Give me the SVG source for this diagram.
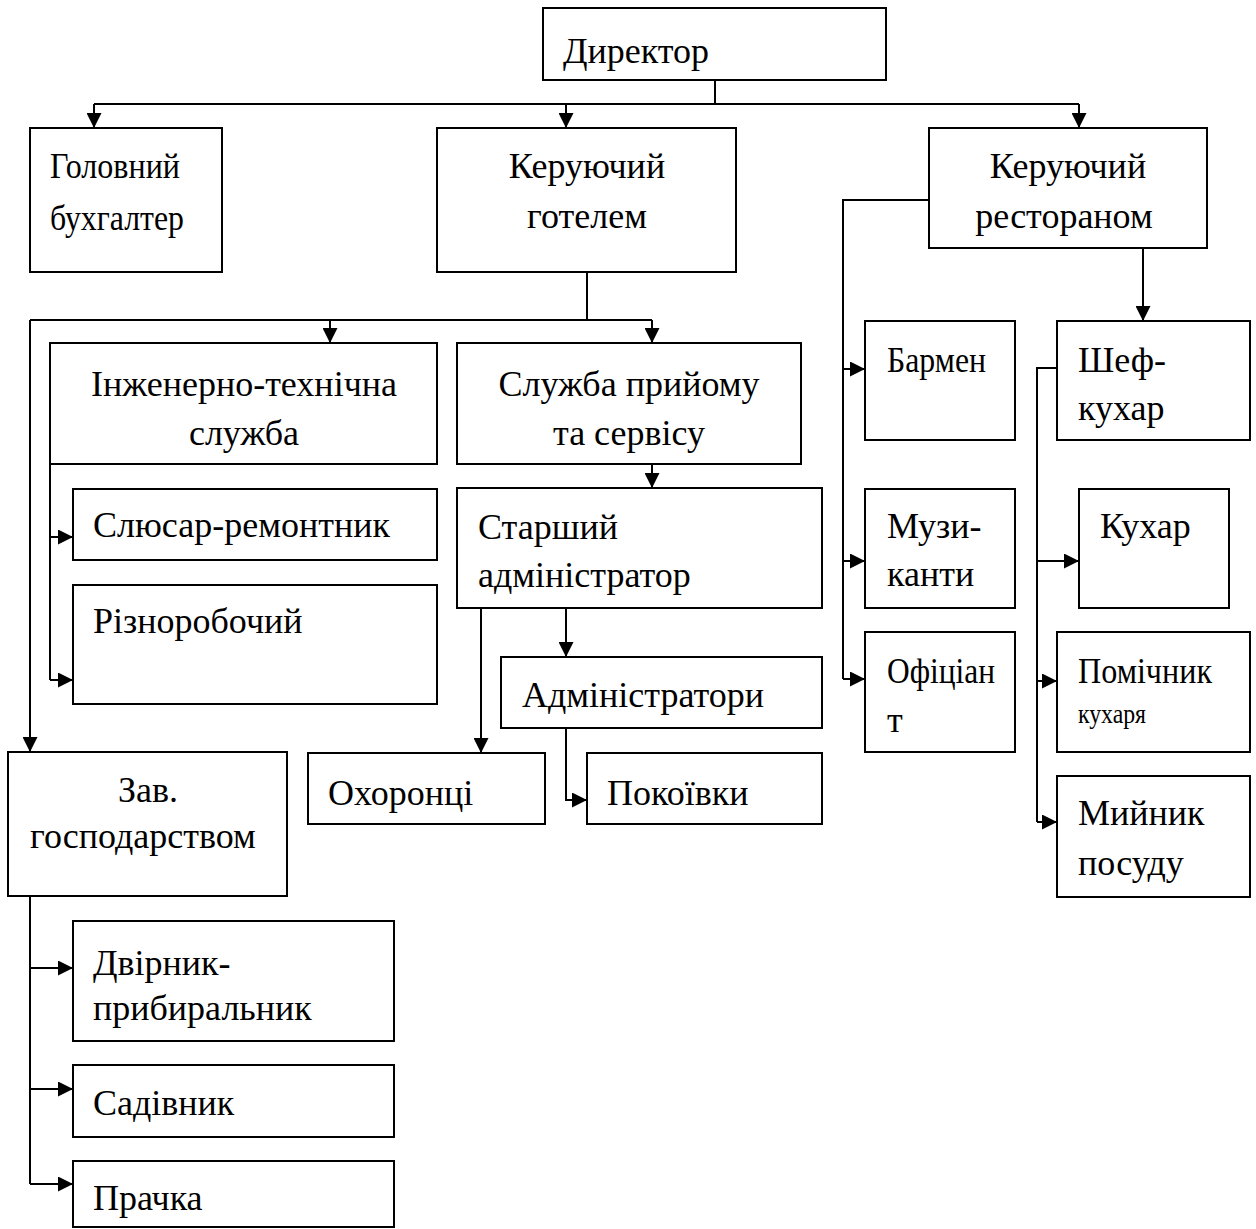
<svg xmlns="http://www.w3.org/2000/svg" width="1256" height="1229" viewBox="0 0 1256 1229">
<style>
.box{fill:#fff;stroke:#000;stroke-width:2}
.t{font-family:"Liberation Serif","Times New Roman",serif;font-size:36px;fill:#000}
.s{font-family:"Liberation Serif","Times New Roman",serif;font-size:27px;fill:#000}
.c{text-anchor:middle}
.ln{fill:none;stroke:#000;stroke-width:2}
</style>
<defs>
<marker id="ar" markerUnits="userSpaceOnUse" markerWidth="15" markerHeight="15" refX="15" refY="7.5" orient="auto">
<path d="M0,0 L15,7.5 L0,15 z" fill="#000"/>
</marker>
</defs>
<rect width="1256" height="1229" fill="#fff"/>
<g id="connectors">
<path class="ln" d="M715,80 V104 M94,104 H1079"/>
<path class="ln" d="M94,104 V128" marker-end="url(#ar)"/>
<path class="ln" d="M566,104 V128" marker-end="url(#ar)"/>
<path class="ln" d="M1079,104 V128" marker-end="url(#ar)"/>
<path class="ln" d="M587,272 V320 M30,320 H652"/>
<path class="ln" d="M330,320 V343" marker-end="url(#ar)"/>
<path class="ln" d="M652,320 V343" marker-end="url(#ar)"/>
<path class="ln" d="M30,320 V752" marker-end="url(#ar)"/>
<path class="ln" d="M50,464 V680"/>
<path class="ln" d="M50,537 H73" marker-end="url(#ar)"/>
<path class="ln" d="M50,680 H73" marker-end="url(#ar)"/>
<path class="ln" d="M652,464 V488" marker-end="url(#ar)"/>
<path class="ln" d="M481,608 V753" marker-end="url(#ar)"/>
<path class="ln" d="M566,608 V657" marker-end="url(#ar)"/>
<path class="ln" d="M566,728 V800 H587" marker-end="url(#ar)"/>
<path class="ln" d="M929,200 H843 V679"/>
<path class="ln" d="M843,369 H865" marker-end="url(#ar)"/>
<path class="ln" d="M843,561 H865" marker-end="url(#ar)"/>
<path class="ln" d="M843,679 H865" marker-end="url(#ar)"/>
<path class="ln" d="M1143,248 V321" marker-end="url(#ar)"/>
<path class="ln" d="M1057,368 H1037 V822"/>
<path class="ln" d="M1037,561 H1079" marker-end="url(#ar)"/>
<path class="ln" d="M1037,681 H1057" marker-end="url(#ar)"/>
<path class="ln" d="M1037,822 H1057" marker-end="url(#ar)"/>
<path class="ln" d="M30,896 V1184"/>
<path class="ln" d="M30,968 H73" marker-end="url(#ar)"/>
<path class="ln" d="M30,1089 H73" marker-end="url(#ar)"/>
<path class="ln" d="M30,1184 H73" marker-end="url(#ar)"/>
</g>
<g id="director"><rect class="box" x="543" y="8" width="343" height="72"/><text class="t" x="563" y="63">Директор</text></g>
<g id="accountant"><rect class="box" x="30" y="128" width="192" height="144"/><text class="t" x="50" y="178" textLength="130" lengthAdjust="spacingAndGlyphs">Головний</text><text class="t" x="50" y="230" textLength="134" lengthAdjust="spacingAndGlyphs">бухгалтер</text></g>
<g id="hotel-manager"><rect class="box" x="437" y="128" width="299" height="144"/><text class="t c" x="587" y="178">Керуючий</text><text class="t c" x="587" y="228">готелем</text></g>
<g id="restaurant-manager"><rect class="box" x="929" y="128" width="278" height="120"/><text class="t c" x="1068" y="178">Керуючий</text><text class="t c" x="1064" y="228">рестораном</text></g>
<g id="engineering"><rect class="box" x="50" y="343" width="387" height="121"/><text class="t c" x="244" y="396">Інженерно-технічна</text><text class="t c" x="244" y="445">служба</text></g>
<g id="locksmith"><rect class="box" x="73" y="489" width="364" height="71"/><text class="t" x="93" y="537">Слюсар-ремонтник</text></g>
<g id="handyman"><rect class="box" x="73" y="585" width="364" height="119"/><text class="t" x="93" y="633">Різноробочий</text></g>
<g id="reception"><rect class="box" x="457" y="343" width="344" height="121"/><text class="t c" x="629" y="396">Служба прийому</text><text class="t c" x="629" y="445">та сервісу</text></g>
<g id="senior-admin"><rect class="box" x="457" y="488" width="365" height="120"/><text class="t" x="478" y="539">Старший</text><text class="t" x="478" y="587">адміністратор</text></g>
<g id="admins"><rect class="box" x="501" y="657" width="321" height="71"/><text class="t" x="522" y="707">Адміністратори</text></g>
<g id="guards"><rect class="box" x="308" y="753" width="237" height="71"/><text class="t" x="328" y="805">Охоронці</text></g>
<g id="maids"><rect class="box" x="587" y="753" width="235" height="71"/><text class="t" x="607" y="805">Покоївки</text></g>
<g id="housekeeper"><rect class="box" x="8" y="752" width="279" height="144"/><text class="t" x="118" y="802">Зав.</text><text class="t c" x="143" y="848">господарством</text></g>
<g id="janitor"><rect class="box" x="73" y="921" width="321" height="120"/><text class="t" x="93" y="975">Двірник-</text><text class="t" x="93" y="1020">прибиральник</text></g>
<g id="gardener"><rect class="box" x="73" y="1065" width="321" height="72"/><text class="t" x="93" y="1115">Садівник</text></g>
<g id="laundress"><rect class="box" x="73" y="1161" width="321" height="66"/><text class="t" x="93" y="1210">Прачка</text></g>
<g id="barman"><rect class="box" x="865" y="321" width="150" height="119"/><text class="t" x="887" y="372" textLength="99" lengthAdjust="spacingAndGlyphs">Бармен</text></g>
<g id="musicians"><rect class="box" x="865" y="489" width="150" height="119"/><text class="t" x="887" y="538">Музи-</text><text class="t" x="887" y="586">канти</text></g>
<g id="waiter"><rect class="box" x="865" y="632" width="150" height="120"/><text class="t" x="887" y="683" textLength="108" lengthAdjust="spacingAndGlyphs">Офіціан</text><text class="t" x="887" y="732">т</text></g>
<g id="chef"><rect class="box" x="1057" y="321" width="193" height="119"/><text class="t" x="1078" y="372">Шеф-</text><text class="t" x="1078" y="420">кухар</text></g>
<g id="cook"><rect class="box" x="1079" y="489" width="150" height="119"/><text class="t" x="1100" y="538">Кухар</text></g>
<g id="cook-assistant"><rect class="box" x="1057" y="632" width="193" height="120"/><text class="t" x="1078" y="683" textLength="134" lengthAdjust="spacingAndGlyphs">Помічник</text><text class="s" x="1078" y="723" textLength="68" lengthAdjust="spacingAndGlyphs">кухаря</text></g>
<g id="dishwasher"><rect class="box" x="1057" y="776" width="193" height="121"/><text class="t" x="1078" y="825">Мийник</text><text class="t" x="1078" y="875">посуду</text></g>
</svg>
